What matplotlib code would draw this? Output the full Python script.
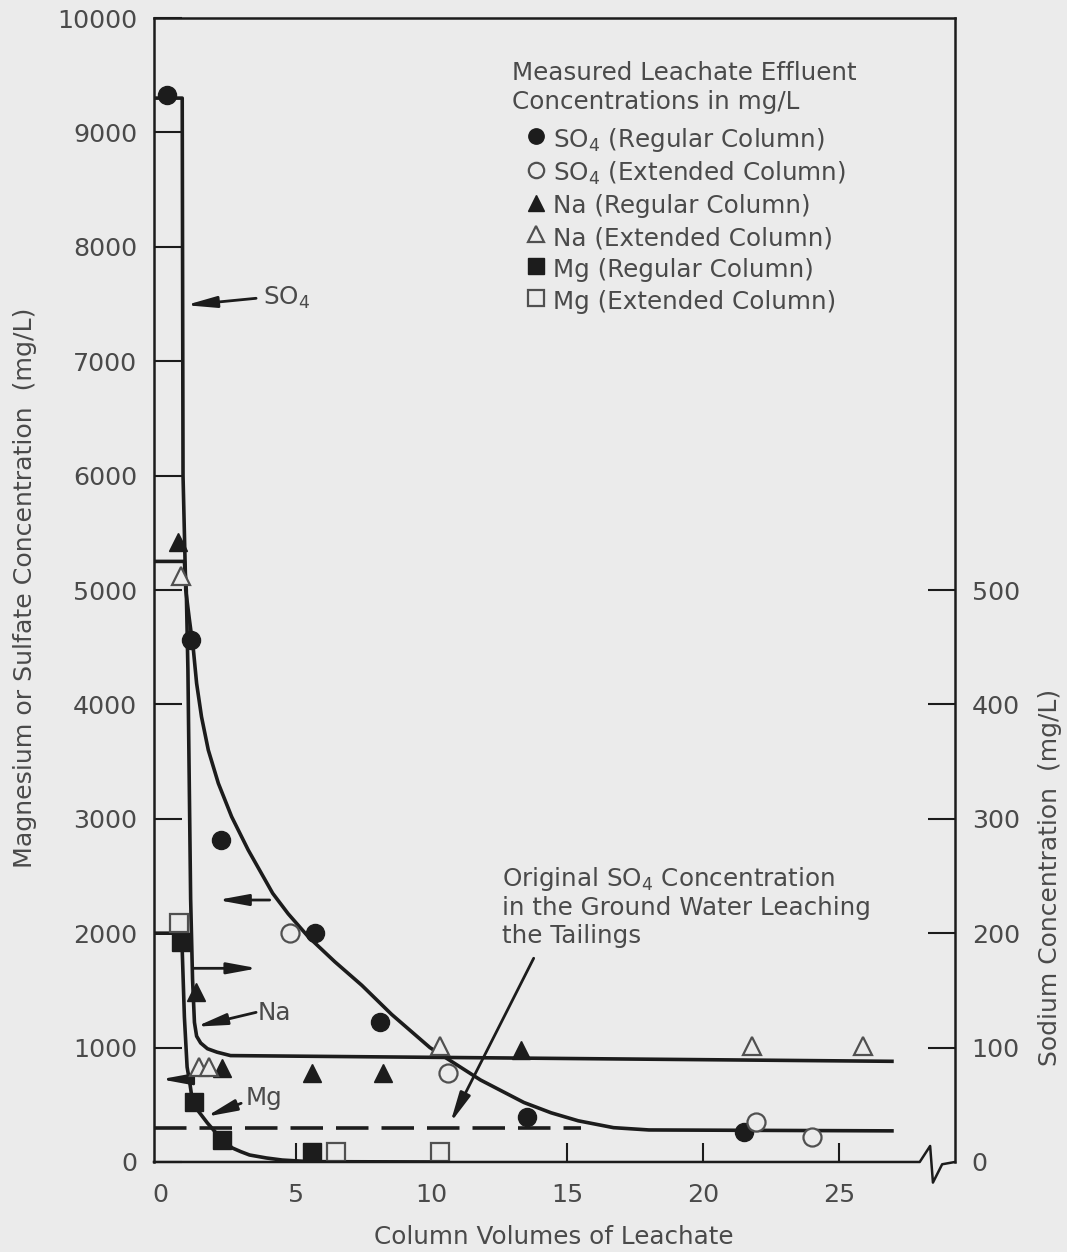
import matplotlib.pyplot as plt

plt.rcParams['font.family'] = ['DejaVu Sans']
plt.rcParams['mathtext.default'] = 'regular'

BG = '#ebebeb'
INK = '#1c1c1c'
TXT = '#4a4a4a'

# measured points (x = column volumes of leachate)
so4_reg_x = [0.27, 1.15, 2.25, 5.7, 8.1, 13.5, 21.5]
so4_reg_y = [9330, 4560, 2815, 2000, 1225, 395, 265]
so4_ext_x = [4.77, 10.6, 21.95, 24.0]
so4_ext_y = [2005, 775, 350, 220]
na_reg_x = [0.65, 1.33, 2.3, 5.58, 8.22, 13.3]
na_reg_y = [542, 149, 82, 78, 78, 98]
na_ext_x = [0.77, 1.45, 1.8, 10.3, 21.8, 25.9]
na_ext_y = [512, 83, 83, 101, 101, 101]
mg_reg_x = [0.77, 1.26, 2.3, 5.58]
mg_reg_y = [1925, 527, 192, 90]
mg_ext_x = [0.71, 6.5, 10.3]
mg_ext_y = [2085, 90, 90]

# hand drawn trend curves
so4_fit_x = [-0.22, 0.82, 0.85, 0.95, 1.08, 1.23, 1.35, 1.53, 1.78, 2.15, 2.64, 3.25, 4.15,
             4.72, 5.46, 6.44, 7.43, 8.53, 9.94, 11.8, 13.4, 14.4, 15.4, 16.7, 18.0, 26.95]
so4_fit_y = [9300, 9300, 6000, 5000, 4750, 4480, 4184, 3892, 3601, 3310, 3018, 2727, 2349,
             2170, 1969, 1750, 1545, 1290, 1000, 717, 520, 430, 360, 300, 280, 272]
na_fit_x = [-0.22, 0.9, 0.97, 1.03, 1.08, 1.13, 1.2, 1.27, 1.35, 1.5, 1.75, 2.1, 2.6, 26.95]
na_fit_y = [525, 525, 500, 430, 330, 230, 160, 122, 110, 104, 99, 96, 93, 88]
mg_fit_x = [-0.22, 0.8, 0.82, 0.9, 1.0, 1.1, 1.19, 1.38, 1.75, 2.07, 2.37, 2.67, 2.98,
            3.3, 3.92, 4.5, 5.5, 10.0]
mg_fit_y = [2000, 2000, 1853, 1267, 830, 690, 542, 455, 340, 253, 178, 122, 90,
            61, 35, 17, 3, 0]
# original SO4 concentration in ground water (dashed)
orig_x = [-0.22, 15.5]
orig_y = [300, 300]

fig = plt.figure(figsize=(10.67, 12.52), dpi=100, facecolor=BG)
ax = fig.add_axes([0.1443, 0.0719, 0.7507, 0.9137], facecolor=BG)
ax2 = ax.twinx()

lw = 2.6
ax.plot(so4_fit_x, so4_fit_y, color=INK, lw=lw, solid_joinstyle='round')
ax.plot(mg_fit_x, mg_fit_y, color=INK, lw=lw, solid_joinstyle='round')
ax.plot(orig_x, orig_y, color=INK, lw=lw, dashes=(9, 3.6))
ax2.plot(na_fit_x, na_fit_y, color=INK, lw=lw, solid_joinstyle='round')

ms = 13
open_kw = dict(ls='none', mfc=BG, mec='#505050', mew=1.6, ms=ms)
fill_kw = dict(ls='none', color=INK, ms=ms)
h1, = ax.plot(so4_reg_x, so4_reg_y, 'o', **fill_kw)
h2, = ax.plot(so4_ext_x, so4_ext_y, 'o', **open_kw)
h5, = ax.plot(mg_reg_x, mg_reg_y, 's', **fill_kw)
h6, = ax.plot(mg_ext_x, mg_ext_y, 's', **open_kw)
h3, = ax2.plot(na_reg_x, na_reg_y, '^', **fill_kw)
h4, = ax2.plot(na_ext_x, na_ext_y, '^', **open_kw)

ax.set_xlim(-0.22, 29.27)
ax.set_ylim(0, 10000)
ax2.set_ylim(0, 1000)
ax.set_xticks([0, 5, 10, 15, 20, 25])
ax.set_yticks(range(0, 10001, 1000))
ax2.set_yticks(range(0, 501, 100))
ax2.yaxis.get_major_ticks()[0].tick2line.set_visible(False)
ax.xaxis.get_major_ticks()[0].tick1line.set_visible(False)

tsz = 18.3
ax.tick_params(axis='y', direction='in', length=20, width=1.5, pad=12,
               labelsize=tsz, labelcolor=TXT, color=INK)
ax.tick_params(axis='x', direction='in', length=14, width=1.5, pad=15,
               labelsize=tsz, labelcolor=TXT, color=INK)
ax2.tick_params(axis='y', direction='in', length=19.5, width=1.5, pad=12,
                labelsize=tsz, labelcolor=TXT, color=INK)

for s in ['right', 'bottom']:
    ax.spines[s].set_visible(False)
for s in ['left', 'top', 'bottom']:
    ax2.spines[s].set_visible(False)
for sp in [ax.spines['left'], ax.spines['top'], ax2.spines['right']]:
    sp.set_linewidth(1.8)
    sp.set_color(INK)

# broken bottom axis
ax.plot([0, 0.956, 0.969, 0.9725, 0.984, 1.0], [0, 0, 0.014, -0.018, -0.002, 0],
        transform=ax.transAxes, clip_on=False, color=INK, lw=1.8)

fs = 17.7
ax.set_ylabel('Magnesium or Sulfate Concentration  (mg/L)', fontsize=18.2, color=TXT, va='center')
ax.yaxis.set_label_coords(-0.161, 0.502)
ax2.set_ylabel('Sodium Concentration  (mg/L)', fontsize=18, color=TXT, va='center')
ax2.yaxis.set_label_coords(1.119, 0.249)
ax.set_xlabel('Column Volumes of Leachate', fontsize=fs, color=TXT, va='center')
ax.xaxis.set_label_coords(0.499, -0.0656)

# annotations
arr = dict(arrowstyle='-|>,head_length=1.3,head_width=0.24', color=INK, lw=2,
           mutation_scale=14, shrinkA=0, shrinkB=0)
ax.annotate('', xy=(0.95, 7490), xytext=(3.54, 7550), arrowprops=arr)
ax.text(3.78, 7550, 'SO$_4$', fontsize=fs, color=TXT, va='center')
ax.annotate('', xy=(2.12, 2290), xytext=(4.04, 2290), arrowprops=arr)
ax.annotate('', xy=(3.6, 1693), xytext=(1.26, 1693), arrowprops=arr)
ax.annotate('', xy=(1.33, 1183), xytext=(3.54, 1308), arrowprops=arr)
ax.text(3.6, 1302, 'Na', fontsize=fs, color=TXT, va='center')
ax.annotate('', xy=(0.03, 723), xytext=(0.96, 723), arrowprops=arr)
ax.annotate('', xy=(1.7, 396), xytext=(2.99, 513), arrowprops=arr)
ax.text(3.17, 557, 'Mg', fontsize=fs, color=TXT, va='center')
ax.annotate('', xy=(10.69, 341), xytext=(13.76, 1781), arrowprops=arr)
ax.text(12.6, 2600, 'Original SO$_4$ Concentration\nin the Ground Water Leaching\nthe Tailings',
        fontsize=fs, color=TXT, va='top', ha='left', linespacing=1.2)

# legend
ax2.text(0.447, 0.962, 'Measured Leachate Effluent\nConcentrations in mg/L',
         transform=ax.transAxes, fontsize=fs, color=TXT, va='top', linespacing=1.25)
handles = [h1, h2, h3, h4, h5, h6]
labels = ['SO$_4$ (Regular Column)', 'SO$_4$ (Extended Column)', 'Na (Regular Column)',
          'Na (Extended Column)', 'Mg (Regular Column)', 'Mg (Extended Column)']
leg = ax2.legend(handles, labels, loc='upper left', bbox_to_anchor=(0.467, 0.906),
                 frameon=False, fontsize=fs, handlelength=0.65, handleheight=1.3,
                 handletextpad=0.35, labelspacing=0.2, borderpad=0, borderaxespad=0,
                 markerscale=0.85)
for t in leg.get_texts():
    t.set_color(TXT)

fig.savefig('out.png', dpi=100, facecolor=BG)
